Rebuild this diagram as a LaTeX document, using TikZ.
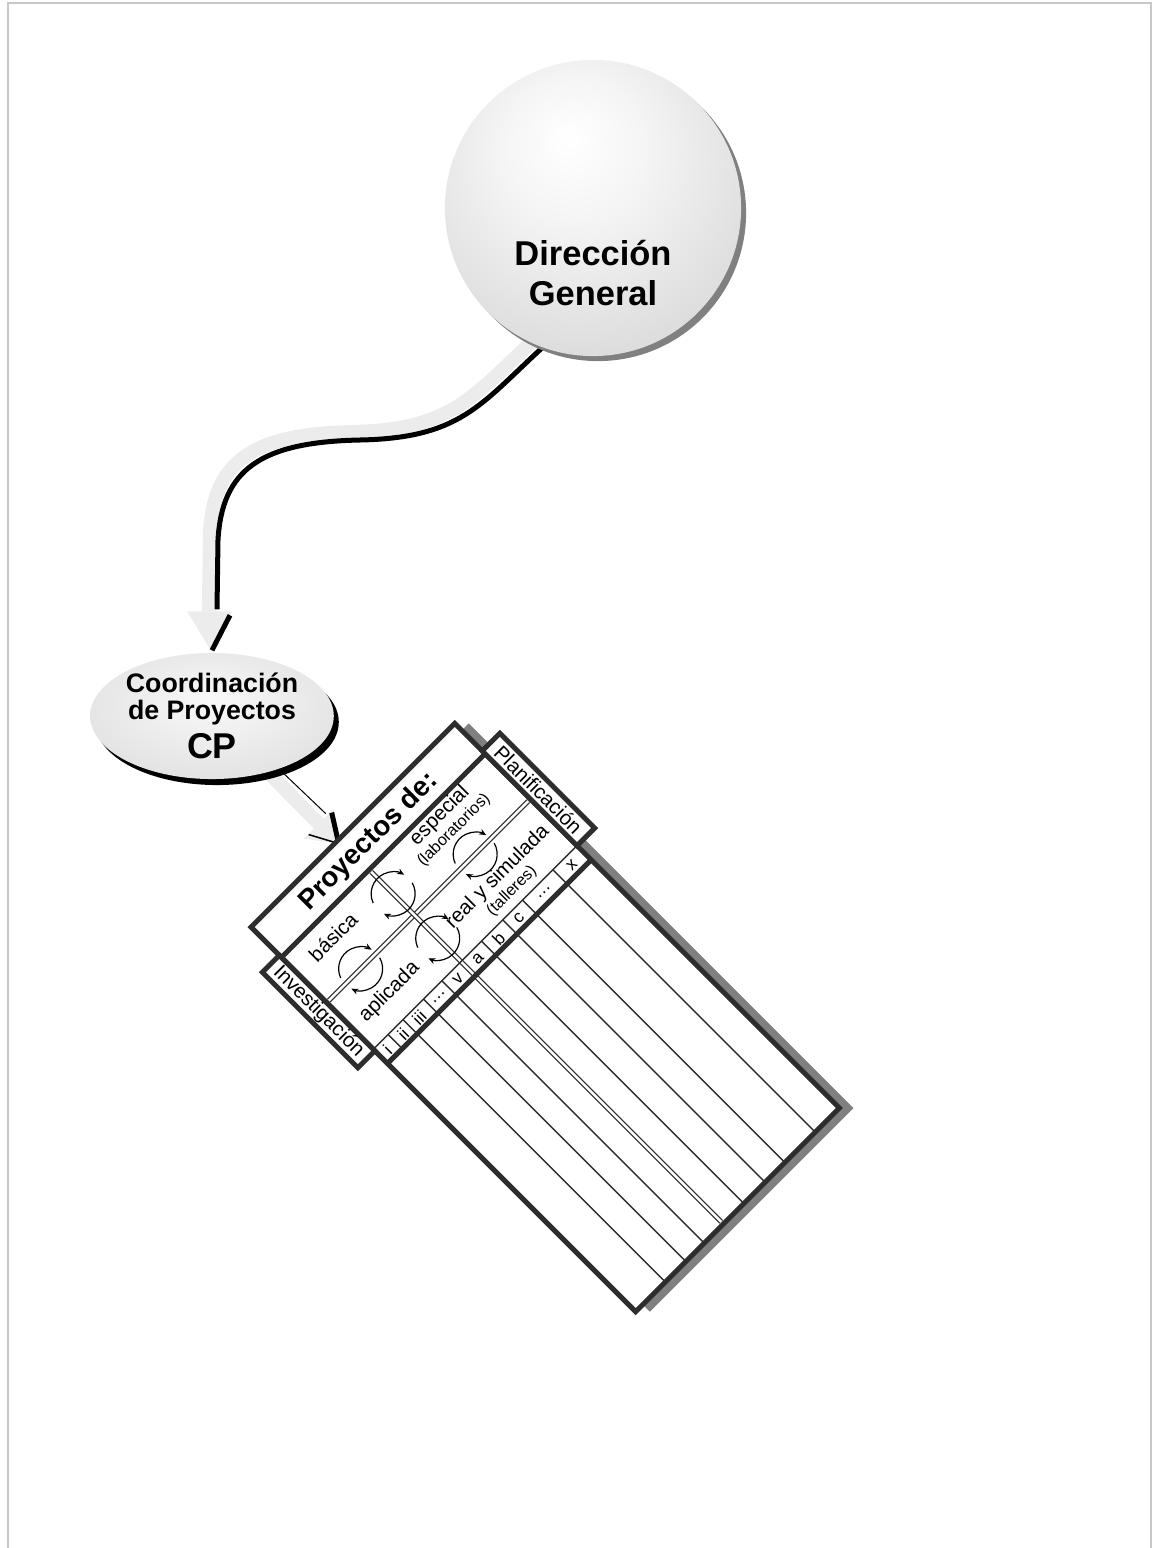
\documentclass[tikz,border=0pt]{standalone}
\usepackage{fontspec}
\setmainfont{Liberation Sans}
\usepackage{xcolor}
\usepackage{tikz}
\definecolor{ribboncolor}{RGB}{236, 236, 236}
\definecolor{framecolor}{RGB}{45, 45, 45}
\definecolor{shadowcolor}{RGB}{128, 128, 128}
\definecolor{bordercolor}{RGB}{200, 200, 200}
\usetikzlibrary{shapes.geometric, arrows.meta, positioning, backgrounds, calc, shadows}
\pgfdeclareradialshading{dgshading}{\pgfpoint{-4bp}{12bp}}{color(0bp)=(white); color(12bp)=(gray!8); color(50bp)=(gray!44); color(75bp)=(gray!44)}
\pgfdeclareradialshading{cpshading}{\pgfpoint{0bp}{6bp}}{color(0bp)=(gray!5); color(50bp)=(gray!35); color(75bp)=(gray!35)}

% two arcs turning round a point of the grid
\newcommand{\cycpair}[2]{%
  \draw[cycarrow] (#1,#2) ++(200:22) arc[start angle=200, end angle=345, radius=22];
  \draw[cycarrow] (#1,#2) ++(15:22) arc[start angle=15, end angle=160, radius=22];}
\newcommand{\dgpath}{(dg.250) .. controls (480,405) and (460,438) .. (360,440)
  .. controls (260,442) and (222,470) .. (218,540) -- ($(cp.north)+(5,-43)$)}
\newcommand{\subtext}[1]{{\fontsize{4.6}{5}\selectfont #1}}

\begin{document}
\begin{tikzpicture}[x=0.01cm, y=-0.01cm,
    dgnode/.style={circle, minimum size=2.96cm, inner sep=0pt, shading=dgshading,
        drop shadow={shadow xshift=0.05cm, shadow yshift=-0.05cm, fill=shadowcolor, opacity=1}},
    dgtext/.style={align=center, font=\bfseries\fontsize{9.8}{11.4}\selectfont},
    cpnode/.style={ellipse, minimum width=2.16cm, minimum height=1.26cm, inner sep=0pt, shading=cpshading,
        align=center, font=\bfseries\fontsize{7.6}{7.7}\selectfont,
        drop shadow={shadow xshift=0.05cm, shadow yshift=-0.06cm, fill=black, opacity=1}},
    ribbon/.style={draw=ribboncolor, line width=0.14cm},
    ribbonedge/.style={draw=black, line width=0.05cm},
    boxline/.style={draw=framecolor, line width=0.05cm},
    thinrule/.style={draw=framecolor, line width=0.014cm},
    dbl/.style={draw=framecolor, double=white, line width=0.012cm, double distance=0.025cm},
    cycarrow/.style={draw=black, line width=0.012cm, -{Stealth[length=0.07cm, width=0.06cm]}},
    headlabel/.style={font=\bfseries\fontsize{7.9}{9}\selectfont, inner sep=0pt},
    celllabel/.style={font=\fontsize{5.8}{5.4}\selectfont, inner sep=0pt, align=center},
    tablabel/.style={font=\fontsize{5.8}{6}\selectfont, inner sep=0pt, rotate=-90},
    collabel/.style={font=\fontsize{5}{5}\selectfont, inner sep=0pt}
]
    \useasboundingbox (0,0) rectangle (1155,1548);
    \draw[bordercolor, line width=0.02cm] (8,1548) -- (8,3) -- (1151,3) -- (1151,1548);

    % Direccion General
    \node[dgnode] (dg) at (593,208) {};
    \node[dgtext, below=0.2cm of dg.center] (dglabel) {Dirección\\General};

    % Coordinacion de Proyectos
    \node[cpnode] (cp) at (212,716) {Coordinación\\de Proyectos\\[1.5pt]{\fontsize{10.2}{12}\selectfont CP}};

    % Proyectos table
    \begin{scope}[rotate=45, transform shape]
        \fill[shadowcolor] (-468,843) rectangle (-180,1387);
        \fill[white] (-478,833) rectangle (-190,1377);
        \draw[dbl] (-475,940) -- (-193,940);
        \draw[dbl] (-354,879) -- (-354,1374);
        \foreach \u in {-436,-407,-381,-325,-295,-267,-224}
            \draw[thinrule] (\u,1006) -- (\u,1377);
        \draw[thinrule] (-457,1006) -- (-457,1026);
        \draw[thinrule] (-478,1006) -- (-190,1006);
        \draw[boxline] (-478,876) -- (-190,876);
        \draw[boxline] (-478,1026) -- (-190,1026);
        \draw[boxline] (-478,833) rectangle (-190,1377);
        \draw[boxline, fill=white] (-190,872) rectangle (-165,1006);
        \draw[boxline, fill=white] (-502,873) rectangle (-478,1008);
        \coordinate (hdtip) at (-357,836);

        \node[headlabel] (proy) at (-334,856) {Proyectos de:};
        \node[celllabel] (basica) at (-427,898) {básica};
        \node[celllabel] (especial) at (-266,897) {especial\\\subtext{(laboratorios)}};
        \node[celllabel] (aplicada) at (-426,977) {aplicada};
        \node[celllabel] (real) at (-268,981) {real y simulada\\\subtext{(talleres)}};
        \node[tablabel] (plan) at (-177.5,939) {Planificación};
        \node[tablabel] (invest) at (-490,940.5) {Investigación};
        \foreach \u/\t [count=\k] in {-468/i, -446/ii, -423/iii, -395/{\ldots}, -368/v,
                -340/a, -311/b, -282/c, -246/{\ldots}, -207/x}
            \node[collabel] (col\k) at (\u,1016) {\t};

        \cycpair{-354}{910}
        \cycpair{-268}{940}
        \cycpair{-354}{973}
        \cycpair{-430}{940}
    \end{scope}

    % connectors
    \begin{scope}[on background layer]
        \draw[ribbon, transform canvas={shift={(-8,-8)}}] \dgpath -- ++(0,10);
        \fill[ribboncolor] ($(cp.north)+(-25,-41)$) -- ($(cp.north)+(20,-41)$) -- (cp.north) -- cycle;
        \draw[ribbonedge] \dgpath;
        \draw[ribbonedge] ($(cp.north)+(18,-37)$) -- ($(cp.north)+(0,-2)$);

        \draw[ribbon] (cp.-45) -- ($(hdtip)+(-18,-18)$);
        \fill[ribboncolor] ($(hdtip)+(-35,-5)$) -- ($(hdtip)+(-5,-35)$) -- (hdtip) -- cycle;
        \draw[black, line width=0.01cm] ($(cp.-45)+(10,-4)$) -- ($(hdtip)+(-13,-30)$);
        \draw[ribbonedge] ($(hdtip)+(-7,-31)$) -- (hdtip);
        \draw[black, line width=0.015cm] ($(hdtip)+(-30,-9)$) -- (hdtip);
    \end{scope}
\end{tikzpicture}
\end{document}
